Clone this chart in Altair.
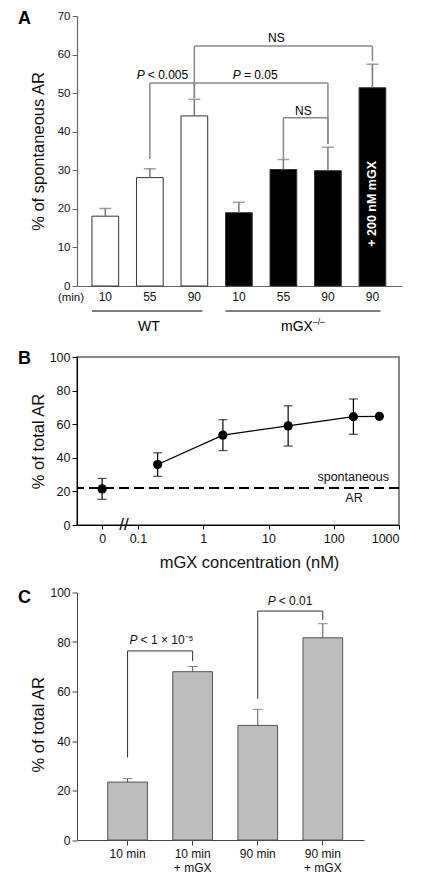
import altair as alt
import numpy as np
import pandas as pd

FONT = "Liberation Sans"

# ---------------- Panel A data ----------------
a_ids = ["WT 10", "WT 55", "WT 90", "KO 10", "KO 55", "KO 90", "KOG 90"]
a_group = ["WT", "WT", "WT", "KO", "KO", "KO", "KO"]
a_values = [18.1, 28.1, 44.1, 19.0, 30.2, 29.9, 51.4]
a_errors = [2.0, 2.3, 4.3, 2.7, 2.6, 6.1, 6.1]

a_br_from = ["WT 90", "WT 55", "WT 90", "KO 55"]
a_br_to = ["KOG 90", "WT 90", "KO 90", "KO 90"]
a_br_top = [62.2, 52.6, 52.6, 43.6]
a_br_from_end = [51.9, 32.9, 48.7, 32.4]
a_br_to_end = [58.3, 48.7, 36.8, 36.8]

a_groups_from = ["WT 10", "KO 10"]
a_groups_to = ["WT 90", "KOG 90"]

# ---------------- Panel B data ----------------
b_conc = [0, 0.2, 2, 20, 200, 500]
b_mean = [21.5, 36.0, 53.5, 59.0, 64.5, 64.7]
b_sem = [6.2, 7.0, 9.2, 12.0, 10.5, 0.0]
b_spont = [22]
b_ticks = [0, 0.1, 1, 10, 100, 1000]

# ---------------- Panel C data ----------------
c_labels = ["10 min", "10 min|+ mGX", "90 min", "90 min|+ mGX"]
c_values = [23.4, 68.0, 46.3, 81.7]
c_errors = [1.4, 2.1, 6.5, 5.7]
c_br_from = ["10 min", "90 min"]
c_br_to = ["10 min|+ mGX", "90 min|+ mGX"]
c_br_top = [76.4, 92.5]
c_br_from_end = [33.3, 57.0]
c_br_to_end = [72.3, 88.9]


def one(**kw):
    return pd.DataFrame({k: [v] for k, v in kw.items()})


def panel_label(letter, ypix):
    return alt.Chart(one(t=letter)).mark_text(
        fontSize=18, fontWeight=900, align="left", baseline="alphabetic", color="black"
    ).encode(text="t:N", x=alt.value(-59), y=alt.value(ypix))


# =============== Panel A =================
WA, HA = 325, 270
dfA = pd.DataFrame({"id": a_ids, "group": a_group, "value": a_values, "err": a_errors})
dfA["upper"] = dfA["value"] + dfA["err"]
brA = pd.DataFrame({"c1": a_br_from, "c2": a_br_to, "top": a_br_top,
                    "e1": a_br_from_end, "e2": a_br_to_end})

scA_x = alt.Scale(domain=a_ids, paddingInner=0.4, paddingOuter=0.35, align=0.48)
axA_x = alt.Axis(title=None, labelExpr="split(datum.value, ' ')[1]", ticks=False,
                 labelAngle=0, labelFontSize=12, labelPadding=5, domainColor="#666",
                 domainWidth=1.2, labelColor="#111")
scA_y = alt.Scale(domain=[0, 70], nice=False)
axA_y = alt.Axis(title="% of spontaneous AR", values=list(range(0, 71, 10)), grid=False,
                 labelFontSize=11.5, labelColor="#111", titleFontSize=16.5,
                 titleFontWeight="normal", titleColor="#111", domainColor="#666",
                 domainWidth=1.2, tickColor="#666", tickSize=5, labelPadding=2,
                 titleX=-34, titleY=HA / 2, titleBaseline="alphabetic",
                 titleAlign="center", titleAngle=270)


def xa(f, **kw):
    return alt.X(f, type="nominal", scale=scA_x, axis=axA_x, **kw)


def ya(f):
    return alt.Y(f, type="quantitative", scale=scA_y, axis=axA_y)


barsA = alt.Chart(dfA).mark_bar(stroke="#333", strokeWidth=1).encode(
    x=xa("id"), y=ya("value"),
    fill=alt.Fill("group:N", scale=alt.Scale(domain=["WT", "KO"], range=["white", "black"]),
                  legend=None))
errA = alt.Chart(dfA).mark_rule(color="#777", strokeWidth=1.5).encode(
    x=xa("id"), y=ya("value"), y2=alt.Y2("upper"))
capA = alt.Chart(dfA).mark_tick(color="#777", size=12, thickness=1.5).encode(
    x=xa("id"), y=ya("upper"))

brHA = alt.Chart(brA).mark_rule(color="#888", strokeWidth=1.5).encode(
    x=xa("c1"), x2=alt.X2("c2"), y=ya("top"))
brLA = alt.Chart(brA).mark_rule(color="#888", strokeWidth=1.5).encode(
    x=xa("c1"), y=ya("top"), y2=alt.Y2("e1"))
brRA = alt.Chart(brA).mark_rule(color="#888", strokeWidth=1.5).encode(
    x=xa("c2"), y=ya("top"), y2=alt.Y2("e2"))


def noteA(text, cat, yv, dx, dy, align="center", italic=False, size=12):
    kw = dict(fontSize=size, align=align, baseline="alphabetic", dx=dx, dy=dy, color="black")
    if italic:
        kw["fontStyle"] = "italic"
    return alt.Chart(one(t=text, c=cat, v=yv)).mark_text(**kw).encode(
        text="t:N", x=xa("c"), y=ya("v"))


notesA = [
    noteA("NS", "KO 55", a_br_top[0], -7, -4),
    noteA("P", "WT 55", a_br_top[1], -5, -4, align="right", italic=True),
    noteA("< 0.005", "WT 55", a_br_top[1], -2, -4, align="left"),
    noteA("P", "KO 10", a_br_top[2], 2, -4, align="right", italic=True),
    noteA("= 0.05", "KO 10", a_br_top[2], 5, -4, align="left"),
    noteA("NS", "KO 55", a_br_top[3], 20, -3),
]

insideA = alt.Chart(one(t="+ 200 nM mGX", c="KOG 90", v=21.3)).mark_text(
    angle=270, color="white", fontWeight="bold", fontSize=12.5, align="center",
    baseline="middle").encode(text="t:N", x=xa("c"), y=ya("v"))

grpA = pd.DataFrame({"c1": a_groups_from, "c2": a_groups_to})
grpLine = alt.Chart(grpA).mark_rule(color="black", strokeWidth=1).encode(
    x=xa("c1", bandPosition=0), x2=alt.X2("c2", bandPosition=0.8), y=alt.value(HA + 25))
wtText = alt.Chart(one(t="WT", c="WT 55")).mark_text(
    fontSize=14, baseline="alphabetic", dx=-1, color="black").encode(
    text="t:N", x=xa("c"), y=alt.value(HA + 45))
koText = alt.Chart(one(t="mGX", c="KO 90")).mark_text(
    fontSize=14, baseline="alphabetic", align="right", dx=-15, color="black").encode(
    text="t:N", x=xa("c"), y=alt.value(HA + 45))
koSup = alt.Chart(one(t="–/–", c="KO 90")).mark_text(
    fontSize=8.5, baseline="alphabetic", align="left", dx=-15, dy=-6, color="black").encode(
    text="t:N", x=xa("c"), y=alt.value(HA + 45))
minText = alt.Chart(one(t="(min)")).mark_text(
    fontSize=11.5, baseline="alphabetic", align="center", color="#111").encode(
    text="t:N", x=alt.value(-6), y=alt.value(HA + 15))

A = alt.layer(barsA, errA, capA, brHA, brLA, brRA, *notesA, insideA, grpLine, wtText,
              koText, koSup, minText, panel_label("A", 8)).properties(width=WA, height=HA)

# =============== Panel B =================
WB, HB = 322, 168
ZERO_POS = -1.55
dfB = pd.DataFrame({"conc": b_conc, "mean": b_mean, "sem": b_sem})
dfB["pos"] = [np.log10(c) if c > 0 else ZERO_POS for c in b_conc]
dfB["low"] = dfB["mean"] - dfB["sem"]
dfB["high"] = dfB["mean"] + dfB["sem"]
tick_pos = [np.log10(c) if c > 0 else ZERO_POS for c in b_ticks]

scB_x = alt.Scale(domain=[-1.935, 3], nice=False, zero=False)
axB_x = alt.Axis(values=tick_pos,
                 labelExpr="datum.value < -1.2 ? '0' : (datum.value < -0.5 ? '0.1' : format(pow(10, datum.value), 'd'))",
                 title="mGX concentration (nM)", grid=False, labelFontSize=12.5,
                 labelColor="#111", titleFontSize=16.5, titleFontWeight="normal",
                 titleColor="#111", domainColor="black", tickColor="black", tickSize=4,
                 labelPadding=3, titleY=42, titleX=172, titleBaseline="alphabetic",
                 titleAlign="center")
scB_y = alt.Scale(domain=[0, 100], nice=False)
axB_y = alt.Axis(title="% of total AR", values=list(range(0, 101, 20)), grid=False,
                 labelFontSize=12.5, labelColor="#111", titleFontSize=16.5,
                 titleFontWeight="normal", titleColor="#111", domainColor="black",
                 tickColor="black", tickSize=5, labelPadding=2, titleX=-34,
                 titleY=HB / 2, titleBaseline="alphabetic", titleAlign="center",
                 titleAngle=270)


def xb(f):
    return alt.X(f, type="quantitative", scale=scB_x, axis=axB_x)


def yb(f):
    return alt.Y(f, type="quantitative", scale=scB_y, axis=axB_y)


baseB = alt.Chart(dfB)
lineB = baseB.transform_filter("datum.conc > 0").mark_line(color="black", strokeWidth=1.3).encode(
    x=xb("pos"), y=yb("mean"))
errB = baseB.transform_filter("datum.sem > 0").mark_rule(color="black", strokeWidth=1.2).encode(
    x=xb("pos"), y=yb("low"), y2=alt.Y2("high"))
capLoB = baseB.transform_filter("datum.sem > 0").mark_tick(
    color="black", orient="horizontal", size=9, thickness=1.2).encode(x=xb("pos"), y=yb("low"))
capHiB = baseB.transform_filter("datum.sem > 0").mark_tick(
    color="black", orient="horizontal", size=9, thickness=1.2).encode(x=xb("pos"), y=yb("high"))
ptsB = baseB.mark_circle(size=85, color="black", opacity=1).encode(x=xb("pos"), y=yb("mean"))
spontB = alt.Chart(pd.DataFrame({"s": b_spont})).mark_rule(
    color="black", strokeWidth=2, strokeDash=[10, 5]).encode(y=yb("s"))
breakB = alt.Chart(one(t="//", p=-1.215, v=0)).mark_text(
    fontSize=17, baseline="middle", align="center", color="black").encode(
    text="t:N", x=xb("p"), y=yb("v"))
spTxt = alt.Chart(one(t="spontaneous", p=2.847, v=26.3)).mark_text(
    fontSize=12.5, baseline="alphabetic", align="right", color="#111").encode(
    text="t:N", x=xb("p"), y=yb("v"))
arTxt = alt.Chart(one(t="AR", p=2.31, v=13.7)).mark_text(
    fontSize=12.5, baseline="alphabetic", align="center", color="#111").encode(
    text="t:N", x=xb("p"), y=yb("v"))

B = alt.layer(spontB, lineB, errB, capLoB, capHiB, ptsB, breakB, spTxt, arTxt,
              panel_label("B", 7)).properties(
    width=WB, height=HB, view=alt.ViewBackground(stroke="#888", strokeWidth=2))

# =============== Panel C =================
WC, HC = 287, 247.5
dfC = pd.DataFrame({"c": c_labels, "value": c_values, "err": c_errors})
dfC["upper"] = dfC["value"] + dfC["err"]
brC = pd.DataFrame({"c1": c_br_from, "c2": c_br_to, "top": c_br_top,
                    "e1": c_br_from_end, "e2": c_br_to_end})

scC_x = alt.Scale(domain=c_labels, paddingInner=0.39, paddingOuter=0.4, align=0.59)
axC_x = alt.Axis(title=None, labelExpr="split(datum.value, '|')", labelAngle=0,
                 labelFontSize=12, labelColor="#111", tickSize=5, tickColor="#444",
                 domainColor="#444", labelPadding=3, labelLineHeight=14)
scC_y = alt.Scale(domain=[0, 100], nice=False)
axC_y = alt.Axis(title="% of total AR", values=list(range(0, 101, 20)), grid=False,
                 labelFontSize=12, labelColor="#111", titleFontSize=16.5,
                 titleFontWeight="normal", titleColor="#111", domainColor="#444",
                 tickColor="#444", tickSize=5, labelPadding=2, titleX=-34,
                 titleY=HC / 2 + 8, titleBaseline="alphabetic", titleAlign="center",
                 titleAngle=270)


def xc(f):
    return alt.X(f, type="nominal", scale=scC_x, axis=axC_x)


def yc(f):
    return alt.Y(f, type="quantitative", scale=scC_y, axis=axC_y)


barsC = alt.Chart(dfC).mark_bar(fill="#bdbdbd", stroke="#555", strokeWidth=1).encode(
    x=xc("c"), y=yc("value"))
errC = alt.Chart(dfC).mark_rule(color="#555", strokeWidth=1).encode(
    x=xc("c"), y=yc("value"), y2=alt.Y2("upper"))
capC = alt.Chart(dfC).mark_tick(color="#555", size=10, thickness=1).encode(
    x=xc("c"), y=yc("upper"))
brHC = alt.Chart(brC).mark_rule(color="#333", strokeWidth=1).encode(
    x=xc("c1"), x2=alt.X2("c2"), y=yc("top"))
brLC = alt.Chart(brC).mark_rule(color="#333", strokeWidth=1).encode(
    x=xc("c1"), y=yc("top"), y2=alt.Y2("e1"))
brRC = alt.Chart(brC).mark_rule(color="#333", strokeWidth=1).encode(
    x=xc("c2"), y=yc("top"), y2=alt.Y2("e2"))


def noteC(text, cat, yv, dx, dy, align="left", italic=False, size=12):
    kw = dict(fontSize=size, align=align, baseline="alphabetic", dx=dx, dy=dy, color="#111")
    if italic:
        kw["fontStyle"] = "italic"
    return alt.Chart(one(t=text, c=cat, v=yv)).mark_text(**kw).encode(
        text="t:N", x=xc("c"), y=yc("v"))


notesC = [
    noteC("P", "10 min", c_br_top[0], 10, -7, align="right", italic=True),
    noteC("< 1 × 10⁻⁵", "10 min", c_br_top[0], 13, -7),
    noteC("P", "90 min", c_br_top[1], 18, -6, align="right", italic=True),
    noteC("< 0.01", "90 min", c_br_top[1], 21, -6),
]

C = alt.layer(barsC, errC, capC, brHC, brLC, brRC, *notesC,
              panel_label("C", 10)).properties(width=WC, height=HC)

chart = alt.vconcat(
    A,
    alt.vconcat(B, C, spacing=67.5, bounds="flush"),
    spacing=71, bounds="flush",
).properties(
    padding={"left": 9, "top": 2, "right": 5, "bottom": 5}
).configure(font=FONT).configure_view(stroke=None)

chart.save("out.html", embed_options={"renderer": "svg", "actions": False})
